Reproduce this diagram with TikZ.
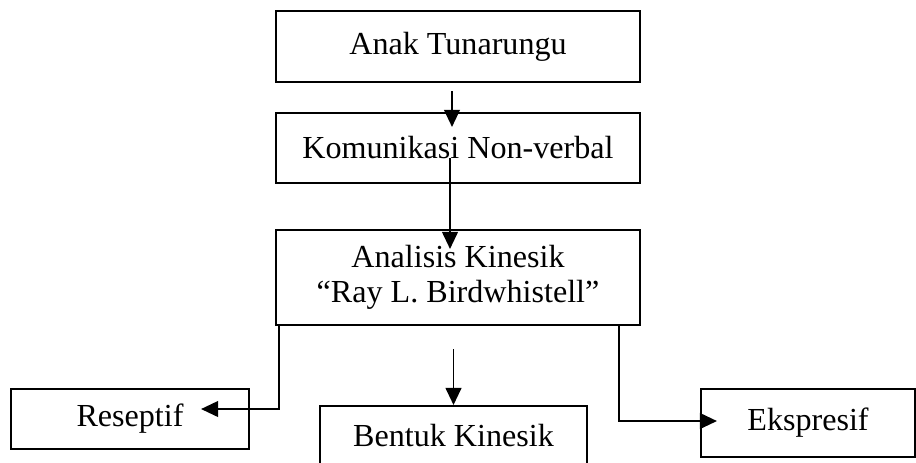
\documentclass[tikz,border=0pt]{standalone}
\usepackage{fontspec}
\setmainfont{Liberation Serif}
\usetikzlibrary{calc,positioning,arrows.meta}
\tikzstyle{block} = [draw, rectangle, line width=0.8pt, inner sep=0pt,
    text centered]
\tikzstyle{line} = [draw, line width=0.7pt]

\begin{document}
\begin{tikzpicture}[x=0.38pt,y=-0.38pt,>={Triangle[length=6.5pt,width=6pt]},
    font=\fontsize{12.2}{13.2}\selectfont]
\useasboundingbox (0,0) rectangle (916,462);

\node (tuna) [block,minimum width=364*0.38pt,minimum height=71*0.38pt] at (458,46.5) {Anak Tunarungu};
\node (komun) [block,minimum width=364*0.38pt,minimum height=70*0.38pt] at (458,148) {Komunikasi Non-verbal};
\node (analisis) [block,minimum width=364*0.38pt,minimum height=95*0.38pt,align=center] at (458,277.5) {Analisis Kinesik\\“Ray L. Birdwhistell”};

\node (reseptif) [block,minimum width=238*0.38pt,minimum height=60*0.38pt] at (130,419) {Reseptif};
\node (bentuk) [block,minimum width=267*0.38pt,text height=15.2pt,text depth=11pt,anchor=north] at (453.5,405) {Bentuk Kinesik};
\node (ekspresif) [block,minimum width=214*0.38pt,minimum height=68*0.38pt] at (808,423) {Ekspresif};

% arrows between the blocks
\draw[line,->] ($(tuna.south)+(-6,8)$) -- ($(komun.north)+(-6,15)$);
\draw[line,->] ($(komun.south)+(-8,-26)$) -- ($(analisis.north)+(-8,20)$);
\draw[line,->] ($(analisis.south -| bentuk.north)+(0,23)$) -- (bentuk.north);

\draw[line,->] ($(analisis.south west)+(4,0)$) |- ($(reseptif.east)+(-49,-10)$);
\draw[line,->] ($(analisis.south east)+(-22,0)$) |- ($(ekspresif.west)+(17,-2)$);

\end{tikzpicture}
\end{document}
